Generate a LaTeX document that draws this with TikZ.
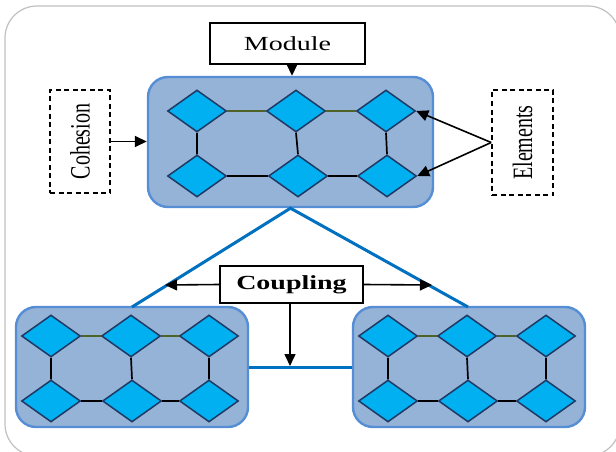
\documentclass[tikz,border=0pt]{standalone}
\usepackage{fontspec}
\setmainfont{Liberation Serif}
\usetikzlibrary{shapes.geometric,arrows.meta}
\definecolor{modfill}{HTML}{95B3D7}
\definecolor{modline}{HTML}{558ED5}
\definecolor{dfill}{HTML}{00B0F0}
\definecolor{dline}{HTML}{1F3864}
\definecolor{olive}{HTML}{4F6228}
\definecolor{tri}{HTML}{0070C0}
\definecolor{frame}{HTML}{C0C0C0}
\tikzset{
  modbox/.style={draw=modline, fill=modfill, line width=2.4pt, rounded corners=20pt, inner sep=0pt},
  dia/.style={diamond, draw=dline, fill=dfill, line width=1.5pt, inner sep=0pt, minimum width=59pt, minimum height=42pt},
  topline/.style={draw=olive, line width=1.6pt},
  link/.style={draw=black, line width=1.7pt},
  labelbox/.style={draw=black, fill=white, line width=1.6pt, inner sep=0pt, font=\fontsize{20}{24}\selectfont},
  dashbox/.style={draw=black, line width=1.6pt, dash pattern=on 5pt off 3.5pt, inner sep=0pt, font=\fontsize{20}{24}\selectfont},
  arr/.style={draw=black, line width=1.6pt, -{Triangle[length=12pt,width=11pt]}},
  triline/.style={draw=tri, line width=3pt}
}
\begin{document}
\begin{tikzpicture}[x=1pt,y=-1pt]
\useasboundingbox (0,0) rectangle (616,452);
\clip (0,0) rectangle (616,452);
\draw[frame, line width=1.2pt, rounded corners=32pt] (5,6) rectangle (620,456);

% modules
\node[modbox, minimum width=285pt, minimum height=130pt] (mtop) at (290.5,142) {};
\node[modbox, minimum width=232pt, minimum height=120pt] (mleft) at (132,367) {};
\node[modbox, minimum width=232pt, minimum height=120pt] (mright) at (469,367) {};

% triangle
\coordinate (tl) at (132,307);
\coordinate (tr) at (468,307);
\draw[triline] (tl) -- (mtop.south) -- (tr);
\draw[triline] (mleft.east |- 0,367) -- (mright.west |- 0,367);

% top module diamonds
\node[dia] (a1) at (197,111) {};
\node[dia] (a2) at (296,111) {};
\node[dia] (a3) at (386,111) {};
\node[dia] (a4) at (197,176) {};
\node[dia] (a5) at (298,176) {};
\node[dia] (a6) at (387,176) {};
\draw[topline] (a1.east) -- (a2.west) (a2.east) -- (a3.west);
\draw[link] (a4.east) -- (a5.west) (a5.east) -- (a6.west);
\draw[link] (a1.south) -- (a4.north) (a2.south) -- (a5.north) (a3.south) -- (a6.north);

% left module diamonds
\node[dia] (b1) at (51,336) {};
\node[dia] (b2) at (131,336) {};
\node[dia] (b3) at (209,336) {};
\node[dia] (b4) at (51,401) {};
\node[dia] (b5) at (132,401) {};
\node[dia] (b6) at (209,401) {};
\draw[topline] (b1.east) -- (b2.west) (b2.east) -- (b3.west);
\draw[link] (b4.east) -- (b5.west) (b5.east) -- (b6.west);
\draw[link] (b1.south) -- (b4.north) (b2.south) -- (b5.north) (b3.south) -- (b6.north);

% right module diamonds
\node[dia] (c1) at (388,336) {};
\node[dia] (c2) at (467,336) {};
\node[dia] (c3) at (546,336) {};
\node[dia] (c4) at (388,401) {};
\node[dia] (c5) at (468,401) {};
\node[dia] (c6) at (546,401) {};
\draw[topline] (c1.east) -- (c2.west) (c2.east) -- (c3.west);
\draw[link] (c4.east) -- (c5.west) (c5.east) -- (c6.west);
\draw[link] (c1.south) -- (c4.north) (c2.south) -- (c5.north) (c3.south) -- (c6.north);

% label boxes
\node[labelbox, minimum width=155pt, minimum height=41pt] (module) at (287.5,43.5) {\scalebox{1.4}[1]{Module}};
\node[labelbox, minimum width=143pt, minimum height=37pt] (coupling) at (291.5,284.5) {\scalebox{1.4}[1]{\bfseries Coupling}};
\node[dashbox, minimum width=60pt, minimum height=103pt] (cohesion) at (80,141.5) {\scalebox{1.4}[1]{\rotatebox{90}{Cohesion}}};
\node[dashbox, minimum width=61pt, minimum height=105pt] (elements) at (522.5,142.5) {\scalebox{1.4}[1]{\rotatebox{90}{Elements}}};

% arrows
\draw[arr] (module.south -| 292,0) -- (mtop.north -| 292,0);
\draw[arr] (cohesion.east) -- (mtop.west |- cohesion.east);
\draw[arr] (elements.west) -- (a3.east);
\draw[arr] (elements.west) -- (a6.east);
\coordinate (cl) at (165,285);
\coordinate (cr) at (432,285);
\coordinate (cd) at (290,366);
\draw[arr] (coupling.west) -- (cl);
\draw[arr] (coupling.east) -- (cr);
\draw[arr] (coupling.south -| cd) -- (cd);
\end{tikzpicture}
\end{document}
